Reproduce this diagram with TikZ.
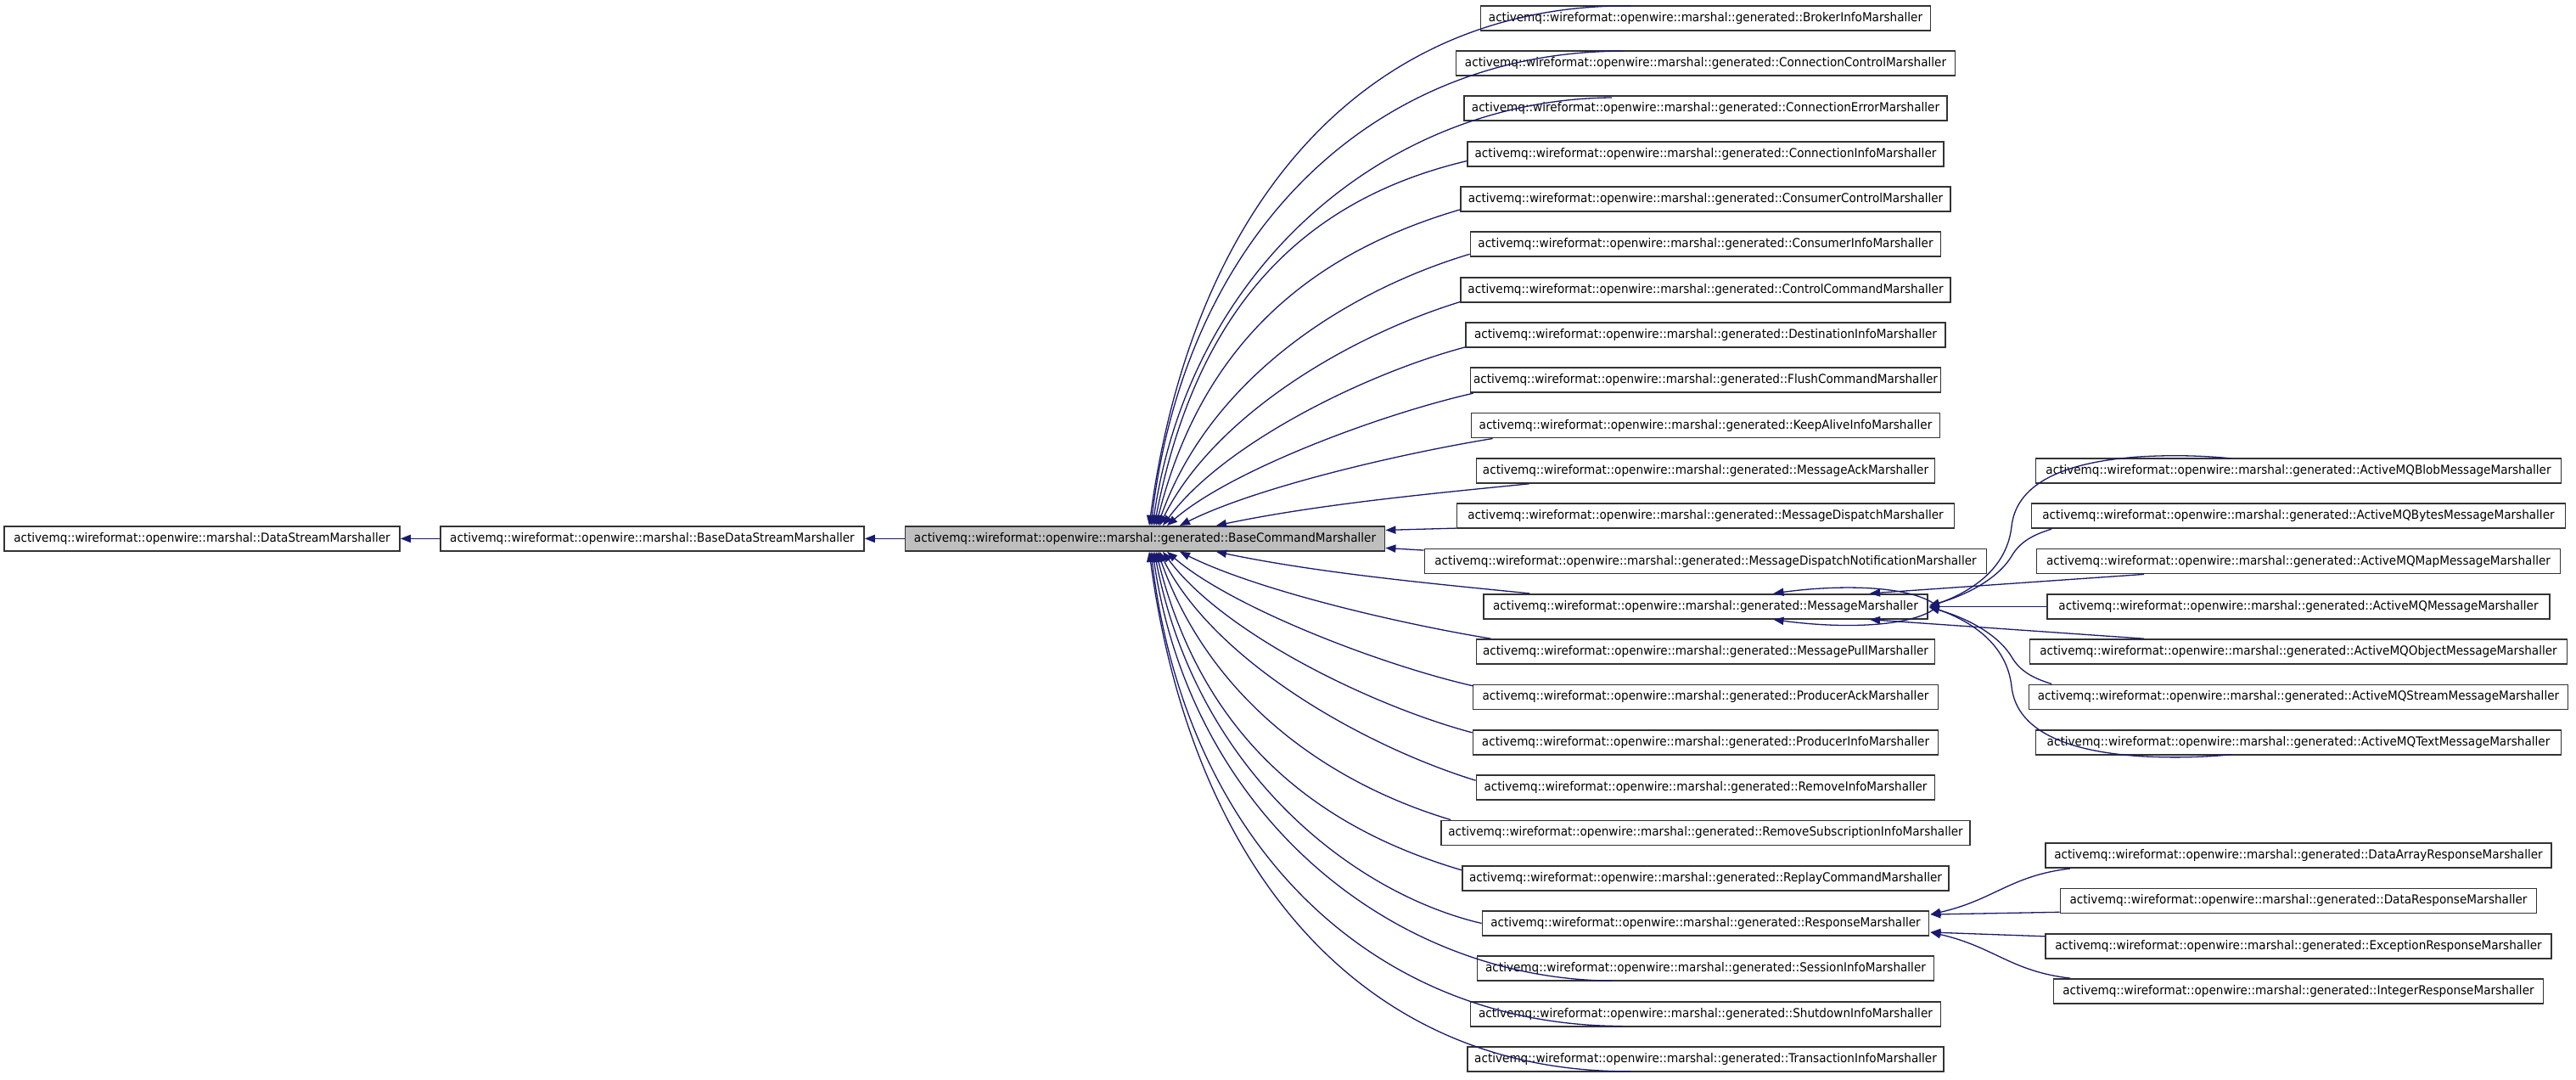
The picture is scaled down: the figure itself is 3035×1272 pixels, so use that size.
\documentclass[tikz,border=0pt]{standalone}
\usepackage{fontspec}
\setmainfont[FakeStretch=0.93]{DejaVu Sans}
\usetikzlibrary{arrows.meta,calc}
\definecolor{edgeblue}{HTML}{191970}
\definecolor{boxgray}{HTML}{BFBFBF}
\definecolor{bordergray}{HTML}{333333}
\newcommand\amqgen{activemq::wireformat::openwire::marshal::generated::}
\begin{document}
\begin{tikzpicture}[x=0.5pt,y=-0.5pt,
  cls/.style={draw=bordergray, line width=0.9pt, fill=white, minimum height=14.5pt,
    inner xsep=0pt, inner ysep=0pt, font=\fontsize{7.3pt}{8pt}\selectfont},
  edge/.style={draw=edgeblue, line width=0.65pt, {Triangle[length=6pt,width=4.6pt]}-}]
\fill[white] (0,0) rectangle (3035,1272);
\useasboundingbox (0,0) rectangle (3035,1272);

% left chain
\node[cls, minimum width=233pt] (ds) at (238,634.4) {activemq::wireformat::openwire::marshal::DataStreamMarshaller};
\node[cls, minimum width=249.5pt] (bds) at (768.5,634.4) {activemq::wireformat::openwire::marshal::BaseDataStreamMarshaller};
\node[cls, minimum width=282.5pt, fill=boxgray] (bc) at (1349,634.4) {\amqgen BaseCommandMarshaller};

% middle column
\node[cls, minimum width=265pt]   (m1)  at (2009.5,21.3)   {\amqgen BrokerInfoMarshaller};
\node[cls, minimum width=294pt]   (m2)  at (2009.5,74.6)   {\amqgen ConnectionControlMarshaller};
\node[cls, minimum width=284.5pt] (m3)  at (2009.5,127.9)  {\amqgen ConnectionErrorMarshaller};
\node[cls, minimum width=280.5pt] (m4)  at (2009.5,181.2)  {\amqgen ConnectionInfoMarshaller};
\node[cls, minimum width=288.5pt] (m5)  at (2009.5,234.5)  {\amqgen ConsumerControlMarshaller};
\node[cls, minimum width=277pt]   (m6)  at (2009.5,287.9)  {\amqgen ConsumerInfoMarshaller};
\node[cls, minimum width=288.5pt] (m7)  at (2009.5,341.2)  {\amqgen ControlCommandMarshaller};
\node[cls, minimum width=282.5pt] (m8)  at (2009.5,394.5)  {\amqgen DestinationInfoMarshaller};
\node[cls, minimum width=277pt]   (m9)  at (2009.5,447.8)  {\amqgen FlushCommandMarshaller};
\node[cls, minimum width=276pt]   (m10) at (2009.5,501.1)  {\amqgen KeepAliveInfoMarshaller};
\node[cls, minimum width=270pt]   (m11) at (2009.5,554.4)  {\amqgen MessageAckMarshaller};
\node[cls, minimum width=293pt]   (m12) at (2009.5,607.7)  {\amqgen MessageDispatchMarshaller};
\node[cls, minimum width=331pt]   (m13) at (2009.5,661.0)  {\amqgen MessageDispatchNotificationMarshaller};
\node[cls, minimum width=261.5pt] (m14) at (2009.5,714.3)  {\amqgen MessageMarshaller};
\node[cls, minimum width=270pt]   (m15) at (2009.5,767.6)  {\amqgen MessagePullMarshaller};
\node[cls, minimum width=274pt]   (m16) at (2009.5,820.9)  {\amqgen ProducerAckMarshaller};
\node[cls, minimum width=274pt]   (m17) at (2009.5,874.3)  {\amqgen ProducerInfoMarshaller};
\node[cls, minimum width=270pt]   (m18) at (2009.5,927.6)  {\amqgen RemoveInfoMarshaller};
\node[cls, minimum width=311.5pt] (m19) at (2009.5,980.9)  {\amqgen RemoveSubscriptionInfoMarshaller};
\node[cls, minimum width=286.5pt] (m20) at (2009.5,1034.2) {\amqgen ReplayCommandMarshaller};
\node[cls, minimum width=263pt]   (m21) at (2009.5,1087.5) {\amqgen ResponseMarshaller};
\node[cls, minimum width=269pt]   (m22) at (2009.5,1140.8) {\amqgen SessionInfoMarshaller};
\node[cls, minimum width=277pt]   (m23) at (2009.5,1194.1) {\amqgen ShutdownInfoMarshaller};
\node[cls, minimum width=280.5pt] (m24) at (2009.5,1247.4) {\amqgen TransactionInfoMarshaller};

% right column
\node[cls, minimum width=309.5pt] (blob)   at (2708,554.4) {\amqgen ActiveMQBlobMessageMarshaller};
\node[cls, minimum width=314.5pt] (bytes)  at (2708,607.7) {\amqgen ActiveMQBytesMessageMarshaller};
\node[cls, minimum width=308.5pt] (map)    at (2708,661.0) {\amqgen ActiveMQMapMessageMarshaller};
\node[cls, minimum width=296pt]   (amqmsg) at (2708,714.3) {\amqgen ActiveMQMessageMarshaller};
\node[cls, minimum width=316.5pt] (object) at (2708,767.6) {\amqgen ActiveMQObjectMessageMarshaller};
\node[cls, minimum width=317.5pt] (stream) at (2708,820.9) {\amqgen ActiveMQStreamMessageMarshaller};
\node[cls, minimum width=309.5pt] (text)   at (2708,874.3) {\amqgen ActiveMQTextMessageMarshaller};
\node[cls, minimum width=298pt]   (dataarray) at (2708,1007.6) {\amqgen DataArrayResponseMarshaller};
\node[cls, minimum width=280.5pt] (dataresp)  at (2708,1060.9) {\amqgen DataResponseMarshaller};
\node[cls, minimum width=298pt]   (exception) at (2708,1114.2) {\amqgen ExceptionResponseMarshaller};
\node[cls, minimum width=288.5pt] (integer)   at (2708,1167.5) {\amqgen IntegerResponseMarshaller};

% left chain edges
\draw[edge] (ds.east) -- (bds.west);
\draw[edge] (bds.east) -- (bc.west);

% top fan
\draw[edge] ($(bc.north)+(5,0)$)  .. controls +(51,-380) and +(-312,-2) .. ($(m1.north west)+(177.5,1)$);
\draw[edge] ($(bc.north)+(7,0)$)  .. controls +(42,-350) and +(-290,0) .. ($(m2.north west)+(197.5,1)$);
\draw[edge] ($(bc.north)+(9,0)$)  .. controls +(45,-310) and +(-260,2) .. ($(m3.north west)+(175,2.5)$);
\draw[edge] ($(bc.north)+(11,0)$) .. controls +(50,-260) and +(-190,45) .. ($(m4.south west)+(0,-7)$);
\draw[edge] ($(bc.north)+(13,0)$) .. controls +(55,-220) and +(-170,50) .. ($(m5.south west)+(0,-3)$);
\draw[edge] ($(bc.north)+(15,0)$) .. controls +(60,-170) and +(-150,45) .. ($(m6.south west)+(0,-4)$);
\draw[edge] ($(bc.north)+(17,0)$) .. controls +(65,-130) and +(-130,40) .. ($(m7.south west)+(0,-1)$);
\draw[edge] ($(bc.north)+(21,0)$) .. controls +(70,-95) and +(-120,32) .. ($(m8.south west)+(0,-1)$);
\draw[edge] ($(bc.north)+(26,0)$) .. controls +(75,-65) and +(-110,25) .. ($(m9.south west)+(4,0)$);
\draw[edge] ($(bc.north)+(41,0)$) .. controls +(90,-45) and +(-110,18) .. ($(m10.south west)+(26,0)$);
\draw[edge] ($(bc.north)+(84,0)$) .. controls +(120,-25) and +(-120,12) .. ($(m11.south west)+(63,0)$);

% right side of base command
\draw[edge] ($(bc.east)+(0,-10)$) -- ($(m12.south west)+(0,-1)$);
\draw[edge] ($(bc.east)+(0,11)$) -- ($(m13.north west)+(0,2.5)$);

% bottom fan
\draw[edge] ($(bc.south)+(84,0)$) .. controls +(120,25) and +(-120,-12) .. ($(m14.north west)+(55,0)$);
\draw[edge] ($(bc.south)+(41,0)$) .. controls +(90,45) and +(-110,-18) .. ($(m15.north west)+(18,0)$);
\draw[edge] ($(bc.south)+(26,0)$) .. controls +(75,65) and +(-110,-25) .. ($(m16.north west)+(1.5,2.5)$);
\draw[edge] ($(bc.south)+(21,0)$) .. controls +(70,95) and +(-120,-32) .. ($(m17.north west)+(0,4)$);
\draw[edge] ($(bc.south)+(17,0)$) .. controls +(65,130) and +(-130,-40) .. ($(m18.north west)+(0,7)$);
\draw[edge] ($(bc.south)+(15,0)$) .. controls +(60,170) and +(-150,-45) .. ($(m19.north west)+(12,0)$);
\draw[edge] ($(bc.south)+(13,0)$) .. controls +(55,220) and +(-170,-50) .. ($(m20.north west)+(0,6)$);
\draw[edge] ($(bc.south)+(11,0)$) .. controls +(50,260) and +(-150,-35) .. (m21.west);
\draw[edge] ($(bc.south)+(9,0)$)  .. controls +(45,310) and +(-260,-2) .. ($(m22.south west)+(160,-1)$);
\draw[edge] ($(bc.south)+(7,0)$)  .. controls +(42,350) and +(-290,0) .. ($(m23.south west)+(180,-1)$);
\draw[edge] ($(bc.south)+(5,0)$)  .. controls +(51,380) and +(-312,2) .. ($(m24.south west)+(193,-1)$);

% MessageMarshaller children
\draw[edge] ($(m14.north)+(80,0)$) .. controls (2170,688) and (2250,690) .. (2280,712)
  .. controls (2330,695) and (2365,665) .. (2370,620)
  .. controls (2375,575) and (2420,545) .. (2520,538)
  .. controls (2570,535) and (2610,538) .. ($(blob.north west)+(231.5,1)$);
\draw[edge] ($(m14.east)+(1,-1)$) .. controls (2320,700) and (2355,680) .. (2370,655)
  .. controls (2380,638) and (2395,630) .. ($(bytes.south west)+(24.5,0)$);
\draw[edge] ($(m14.north)+(193.5,0)$) -- ($(map.south west)+(127.5,0)$);
\draw[edge] ($(m14.east)+(1,0)$) -- (amqmsg.west);
\draw[edge] ($(m14.south)+(193.5,0)$) -- ($(object.north west)+(135.5,0)$);
\draw[edge] ($(m14.east)+(1,1)$) .. controls (2320,728.6) and (2355,748.6) .. (2370,773.6)
  .. controls (2380,790.6) and (2395,798.6) .. ($(stream.north west)+(27.5,0)$);
\draw[edge] ($(m14.south)+(80,0)$) .. controls (2170,740.6) and (2250,738.6) .. (2280,716.6)
  .. controls (2330,733.6) and (2365,763.6) .. (2370,808.6)
  .. controls (2375,853.6) and (2420,883.6) .. (2520,890.6)
  .. controls (2570,893.6) and (2610,890.6) .. ($(text.south west)+(231.5,-1)$);

% ResponseMarshaller children
\draw[edge] ($(m21.east)+(1,-10.5)$) .. controls +(75,-17) and +(-70,8) .. ($(dataarray.south west)+(30,0)$);
\draw[edge] ($(m21.east)+(1,-10.5)$) -- ($(dataresp.south west)+(0,-2)$);
\draw[edge] ($(m21.east)+(1,10.5)$) -- ($(exception.north west)+(0,4)$);
\draw[edge] ($(m21.east)+(1,10.5)$) .. controls +(75,17) and +(-70,-8) .. ($(integer.north west)+(20.5,0)$);
\end{tikzpicture}
\end{document}
